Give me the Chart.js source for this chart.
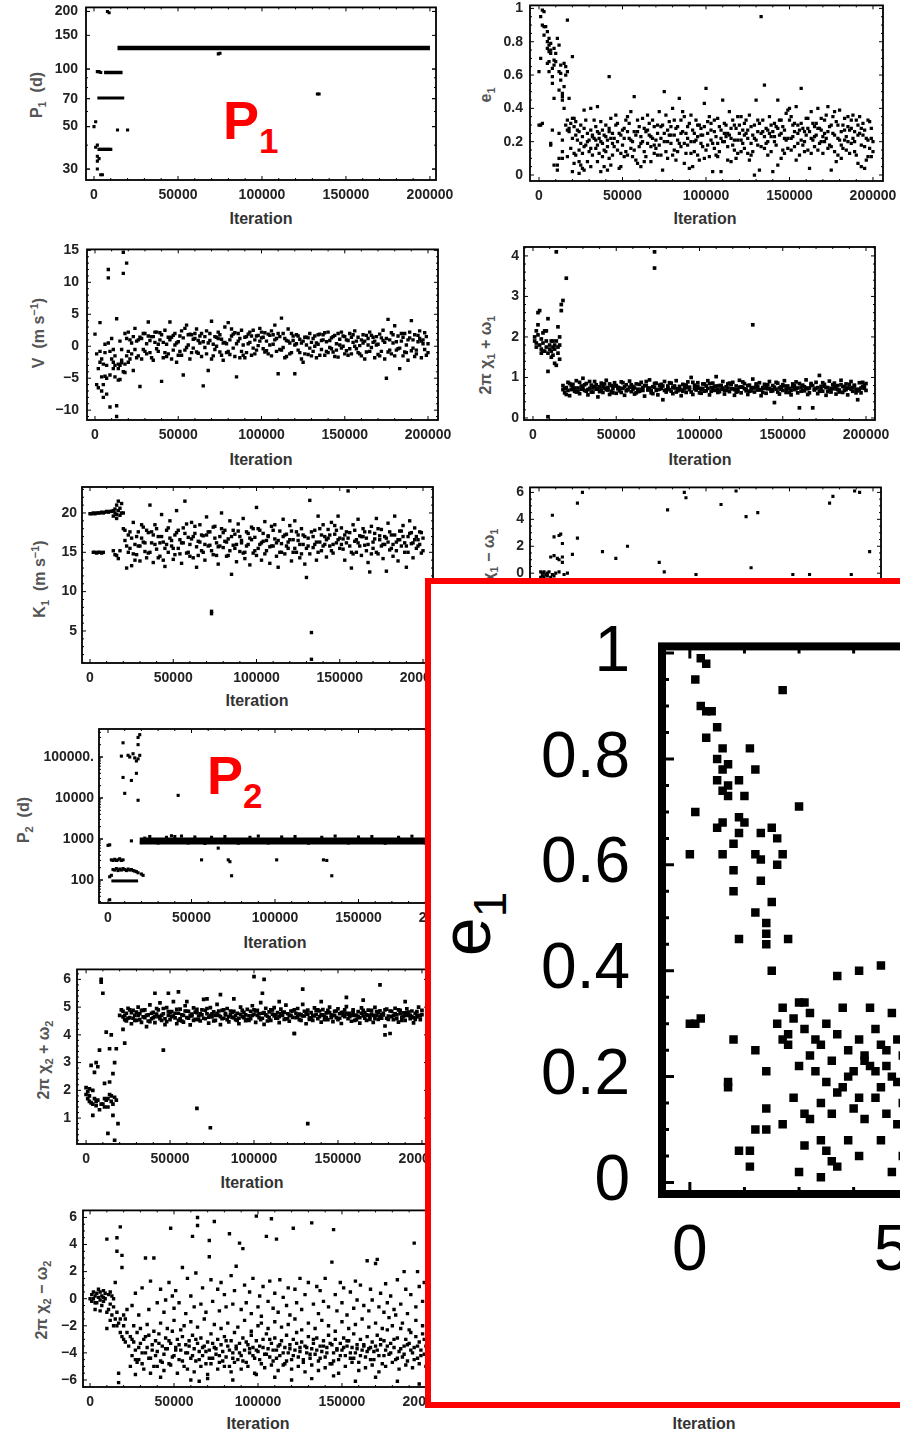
<!DOCTYPE html>
<html lang="en">
<head>
<meta charset="UTF-8">
<title>MCMC chains – orbital parameters vs iteration</title>
<script src="https://cdn.jsdelivr.net/npm/chart.js"></script>
<style>
  html, body { margin: 0; padding: 0; background: #fff; }
  body { width: 900px; height: 1435px; overflow: hidden; position: relative; font-family: 'Liberation Sans', Arial, Helvetica, sans-serif; }
  canvas { position: absolute; }
  .yt { position: absolute; transform: translate(-50%, -50%) rotate(-90deg); white-space: nowrap; font-weight: bold; font-size: 16px; color: #555; }
  .yt sub, .yt sup { font-size: 11px; }
  .xt { position: absolute; transform: translate(-50%, -50%); white-space: nowrap; font-weight: bold; font-size: 16px; color: #333; }
  .red { position: absolute; color: #f00; font-weight: bold; font-size: 54px; line-height: 1; }
  .red span { font-size: 35px; position: relative; top: 14px; }
  #inset { position: absolute; left: 425px; top: 578px; width: 700px; height: 830px; box-sizing: border-box; border: 6px solid #f00; background: #fff; overflow: hidden; z-index: 5; }
  #insetY { position: absolute; left: 35px; top: 340px; transform: translate(-50%, -50%) rotate(-90deg); font-size: 70px; line-height: 1; color: #000; white-space: nowrap; }
  #insetY span { font-size: 46px; position: relative; top: 16px; }
</style>
</head>
<body>

<div class="red" style="left:223px;top:93px">P<span>1</span></div>
<div class="red" style="left:207px;top:748px">P<span>2</span></div>

<div class="yt" style="left:38px;top:95px">P<sub>1</sub>&nbsp;&nbsp;(d)</div>
<div class="yt" style="left:487px;top:95px">e<sub>1</sub></div>
<div class="yt" style="left:38px;top:333px">V&nbsp;&nbsp;(m s<sup>−1</sup>)</div>
<div class="yt" style="left:487px;top:355px">2π χ<sub>1</sub> + ω<sub>1</sub></div>
<div class="yt" style="left:40px;top:579px">K<sub>1</sub>&nbsp;&nbsp;(m s<sup>−1</sup>)</div>
<div class="yt" style="left:490px;top:568px">2π χ<sub>1</sub> − ω<sub>1</sub></div>
<div class="yt" style="left:25px;top:820px">P<sub>2</sub>&nbsp;&nbsp;(d)</div>
<div class="yt" style="left:45px;top:1060px">2π χ<sub>2</sub> + ω<sub>2</sub></div>
<div class="yt" style="left:43px;top:1300px">2π χ<sub>2</sub> − ω<sub>2</sub></div>

<div class="xt" style="left:261px;top:219px">Iteration</div>
<div class="xt" style="left:705px;top:219px">Iteration</div>
<div class="xt" style="left:261px;top:460px">Iteration</div>
<div class="xt" style="left:700px;top:460px">Iteration</div>
<div class="xt" style="left:257px;top:701px">Iteration</div>
<div class="xt" style="left:275px;top:943px">Iteration</div>
<div class="xt" style="left:252px;top:1183px">Iteration</div>
<div class="xt" style="left:258px;top:1424px">Iteration</div>
<div class="xt" style="left:704px;top:1424px">Iteration</div>

<div id="inset"><div id="insetY">e<span>1</span></div></div>

<script>
// x values are in thousands of iterations; y units noted per array
const iterTicks = [0, 50000, 100000, 150000, 200000];
const iterLabels = ['0', '50000', '100000', '150000', '200000'];

// P1 (d)
const p1Ticks = [30, 50, 70, 100, 150, 200];
const p1Labels = ['30', '50', '70', '100', '150', '200'];
const p1Pts = [8,200, 9,197, 2,97, 3,97, 4,96, 14,48, 20,48, 0,50, 1,53, 1,39, 2,40, 2,35, 2,33, 3,34, 2,30, 4,28, 5,28, 3,38, 4,38, 5,38, 6,38, 7,38, 8,38, 9,38, 10,38, 74,120, 75,121, 133,74, 134,74];
const p1Runs = [14,200,129, 2,18,70.5, 6,17,96]; // dense stretches: from, to, value

// e1 (hundredths)
const e1Ticks = [0, 0.2, 0.4, 0.6, 0.8, 1];
const e1Labels = ['0', '0.2', '0.4', '0.6', '0.8', '1'];
const e1Early = [2,99, 3,98, 1,95, 17,93, 2,90, 3,89, 4,89, 5,86, 3,84, 6,82, 11,82, 5,80, 6,78, 7,79, 5,76, 7,75, 6,74, 12,78, 9,76, 7,73, 10,73, 20,71, 1,70, 5,67, 6,68, 9,69, 10,68, 9,66, 8,64, 13,66, 15,67, 16,65, 17,62, 16,60, 12,62, 13,61, 0,62, 6,62, 8,59, 13,57, 8,55, 15,53, 12,51, 14,49, 14,47, 14,45, 18,46, 9,46, 15,40, 0,30, 2,31, 1,30, 8,27, 12,25, 14,21, 7,19, 7,18, 19,16, 14,14, 17,11, 14,10, 12,10, 9,6, 11,6, 11,3, 21,13, 22,12, 20,2, 24,1];
const e1Mid = [16,30, 17,33, 18,28, 19,31, 20,34, 21,29, 22,32, 23,27, 18,26, 21,34, 17,27, 20,22, 22,24, 24,26, 25,30, 26,23, 27,28, 28,33, 29,25, 30,21, 31,27, 33,33, 32,24, 34,29, 35,26, 36,22, 37,32, 38,27, 39,24, 40,30, 41,21, 42,26, 43,34, 44,19, 27,39, 31,40, 35,41, 23,21, 25,19, 27,17, 29,20, 31,16, 33,22, 35,18, 37,20, 39,15, 41,17, 43,22, 24,15, 26,13, 28,18, 30,14, 32,12, 34,16, 36,13, 38,11, 40,14, 42,10, 44,12, 21,7, 24,8, 25,6, 26,4, 27,3, 29,8, 31,5, 35,8, 37,2, 39,5, 41,3, 43,6, 32,23, 34,21, 36,25, 38,19, 40,23, 42,28, 44,25, 42,59];
const e1Late = [45,22, 46,30, 47,15, 48,25, 49,5, 50,18, 51,28, 52,33, 53,12, 54,22, 55,38, 56,20, 57,47, 58,9, 59,26, 60,17, 46,36, 48,4, 50,27, 52,14, 54,31, 56,11, 58,24, 60,29, 47,20, 49,13, 51,22, 53,35, 55,16, 57,26, 59,7,
  61,23, 62,34, 63,14, 64,26, 65,19, 66,31, 67,8, 68,22, 69,29, 70,16, 71,25, 72,38, 73,12, 74,30, 75,50, 62,20, 64,11, 66,24, 68,33, 70,21, 72,18, 74,3, 63,28, 65,36, 67,17, 69,13, 71,30, 73,22, 61,5, 75,25,
  76,14, 77,27, 78,32, 79,19, 80,40, 81,24, 82,9, 83,29, 84,46, 85,17, 86,26, 87,35, 88,13, 89,22, 90,31, 77,20, 79,29, 81,15, 83,21, 85,33, 87,7, 89,18, 78,24, 80,12, 82,28, 84,19, 86,38, 88,25, 90,4, 76,36,
  91,20, 92,27, 93,14, 94,33, 95,23, 96,9, 97,28, 98,17, 99,43, 100,52, 101,25, 102,11, 103,31, 104,19, 105,26, 92,5, 94,21, 96,30, 98,24, 100,15, 102,35, 104,2, 91,36, 93,25, 95,12, 97,19, 99,29, 101,32, 103,21, 105,16,
  106,23, 107,34, 108,14, 109,27, 110,45, 111,20, 112,30, 113,17, 114,24, 115,8, 116,33, 117,21, 118,28, 119,13, 120,25, 107,19, 109,2, 111,31, 113,25, 115,22, 117,15, 119,35, 106,12, 108,29, 110,20, 112,23, 114,38, 116,18, 118,10, 120,30,
  121,21, 122,27, 123,16, 124,33, 125,22, 126,9, 127,29, 128,24, 129,0, 130,45, 131,18, 132,31, 133,95, 134,26, 135,54, 122,19, 124,25, 126,36, 128,14, 130,21, 132,3, 134,33, 121,35, 123,24, 125,13, 127,19, 129,30, 131,26, 133,17, 135,23,
  136,28, 137,20, 138,35, 139,14, 140,26, 141,31, 142,18, 143,45, 144,24, 145,10, 146,29, 147,22, 148,37, 149,16, 150,33, 137,27, 139,30, 141,23, 143,6, 145,25, 147,13, 149,39, 136,19, 138,25, 140,2, 142,29, 144,33, 146,15, 148,21, 150,40,
  151,22, 152,30, 153,17, 154,41, 155,25, 156,12, 157,52, 158,28, 159,20, 160,34, 161,15, 162,26, 163,38, 164,21, 165,29, 152,23, 154,9, 156,27, 158,18, 160,24, 162,4, 164,31, 151,35, 153,26, 155,19, 157,31, 159,14, 161,28, 163,22, 165,17,
  166,24, 167,40, 168,19, 169,27, 170,13, 171,33, 172,22, 173,41, 174,29, 175,17, 176,35, 177,24, 178,8, 179,30, 180,21, 167,15, 169,34, 171,20, 173,26, 175,3, 177,38, 179,12, 166,31, 168,28, 170,23, 172,36, 174,18, 176,25, 178,32, 180,39,
  181,26, 182,16, 183,34, 184,23, 185,35, 186,13, 187,28, 188,36, 189,20, 190,33, 191,7, 192,25, 193,18, 194,31, 195,4, 196,22, 197,33, 198,16, 199,28, 200,20, 182,30, 184,15, 186,27, 188,22, 190,12, 192,35, 194,24, 196,9, 198,32, 200,14, 181,10, 183,21, 185,29, 187,19, 189,26, 191,30, 193,5, 195,27, 197,21, 199,11,
  45,17, 47,31, 49,24, 51,11, 53,26, 55,21, 57,15, 59,33, 61,19, 63,8, 65,27, 67,23, 69,18, 71,12, 73,29, 75,20, 77,10, 79,24, 81,33, 83,14, 85,25, 87,19, 89,29, 91,13, 93,20, 95,30, 97,24, 99,10, 101,18, 103,27, 105,33, 107,11, 109,22, 111,25, 113,9, 115,28, 117,30, 119,21, 121,14, 123,31, 125,27, 127,12, 129,22, 131,33, 133,25, 135,16, 137,12, 139,23, 141,20, 143,28, 145,33, 147,27, 149,22, 151,15, 153,31, 155,30, 157,21, 159,26, 161,34, 163,13, 165,23, 167,28, 169,20, 171,25, 173,16, 175,30, 177,14, 179,22, 181,18, 183,27, 185,20, 187,33, 189,14, 191,24, 193,28, 195,17, 197,11, 199,22];

// V (tenths of m/s)
const vTicks = [-10, -5, 0, 5, 10, 15];
const vLabels = ['\u221210', '\u22125', '0', '5', '10', '15'];
const vEarly = [0,19, 1,-12, 1,-60, 2,-65, 2,-35, 3,37, 3,-25, 4,-20, 4,-48, 5,-80, 5,-28, 6,-47, 6,-10, 7,-50, 7,-30, 8,120, 8,107, 8,5, 9,-95, 9,-45, 10,-20, 10,12, 11,-5, 11,-25, 12,-15, 12,-48, 13,43, 13,-93, 13,-110, 14,-35, 14,-53, 15,-30, 15,8, 16,-5, 16,-26, 17,114, 17,147, 17,-40, 18,20, 18,-41, 19,130, 19,-15, 20,22, 20,-8, 21,10, 21,-20, 22,5, 22,-12, 23,-38, 23,15, 24,28, 24,-5, 6,3, 9,-8, 11,-35, 3,-8, 5,-60, 4,-70, 7,-75, 12,-30, 14,-28, 15,-52, 16,-22, 18,-28, 19,12, 20,-25];
const vLate = [25,8, 26,-15, 27,-63, 28,12, 29,-5, 30,20, 31,4, 32,38, 33,-10, 34,15, 35,-22, 36,6, 37,22, 38,-8, 39,10, 40,-55, 41,-18, 42,25, 43,3, 44,-12, 45,38, 46,14, 47,-6, 48,20, 49,-25, 50,7, 51,16, 52,-14, 53,-45, 54,28, 55,33, 56,2, 57,-20, 58,18, 59,-3, 60,12, 61,27, 62,-11, 63,5, 64,20, 65,-62, 66,-2, 67,24, 68,-38, 69,9, 70,39, 71,-15, 72,15, 73,0, 74,22, 75,-9, 76,11, 77,-22, 78,30, 79,4, 80,37, 81,-13, 82,16, 83,-3, 84,21, 85,-48, 86,8, 87,-18, 88,25, 89,2, 90,14, 91,-10, 92,19, 93,6, 94,-14, 95,25, 96,10, 97,-6, 98,17, 99,28, 100,13, 101,-4, 102,21, 103,8, 104,-12, 105,17, 106,24, 107,3, 108,33, 109,-8, 110,-43, 111,15, 112,44, 113,-2, 114,12, 115,-16, 116,27, 117,5, 118,-10, 119,9, 120,-43, 121,18, 122,-6, 123,11, 124,-20, 125,-25, 126,14, 127,2, 128,-13, 129,20, 130,6, 131,-8, 132,16, 133,-18, 134,3, 135,19, 136,-5, 137,10, 138,-14, 139,7, 140,22, 141,-2, 142,13, 143,-9, 144,17, 145,4, 146,-17, 147,11, 148,22, 149,0, 150,15, 151,-7, 152,9, 153,20, 154,-12, 155,6, 156,24, 157,-4, 158,14, 159,1, 160,-15, 161,18, 162,8, 163,-9, 164,12, 165,22, 166,-2, 167,6, 168,-18, 169,15, 170,3, 171,19, 172,-8, 173,25, 174,-20, 175,-50, 176,42, 177,10, 178,-12, 179,5, 180,32, 181,-6, 182,16, 183,-35, 184,8, 185,-15, 186,20, 187,2, 188,-22, 189,13, 190,40, 191,-3, 192,18, 193,-12, 194,7, 195,24, 196,-18, 197,10, 198,-5, 199,15, 200,4,
  26,10, 28,-20, 30,-8, 32,16, 34,-18, 36,22, 38,3, 40,18, 42,-10, 44,14, 46,-20, 48,2, 50,-14, 52,24, 54,-6, 56,18, 58,-10, 60,20, 62,9, 64,-16, 66,15, 68,5, 70,-20, 72,-5, 74,12, 76,-14, 78,6, 80,-8, 82,27, 84,-16, 86,20, 88,-8, 90,-18, 92,4, 94,16, 96,-12, 98,1, 100,22, 102,-9, 104,19, 106,-15, 108,10, 110,20, 112,-6, 114,-18, 116,8, 118,20, 120,2, 122,16, 124,5, 126,-12, 128,13, 130,-15, 132,0, 134,18, 136,9, 138,21, 140,-10, 142,-4, 144,-16, 146,20, 148,-3, 150,-12, 152,-14, 154,14, 156,0, 158,-10, 160,10, 162,-20, 164,2, 166,17, 168,8, 170,-13, 172,13, 174,6, 176,-9, 178,21, 180,-15, 182,-4, 184,20, 186,-9, 188,10, 190,-7, 192,-16, 194,17, 196,8, 198,21, 200,-10,
  25,-18, 27,14, 29,20, 31,-12, 33,9, 35,15, 37,-4, 39,21, 41,6, 43,-16, 45,10, 47,17, 49,5, 51,-8, 53,13, 55,-2, 57,19, 59,11, 61,-9, 63,16, 65,7, 67,-12, 69,20, 71,3, 73,14, 75,18, 77,5, 79,-10, 81,10, 83,19, 85,4, 87,12, 89,-14, 91,15, 93,22, 95,-3, 97,16, 99,8, 101,14, 103,-7, 105,2, 107,18, 109,12, 111,-5, 113,20, 115,9, 117,-12, 119,16, 121,4, 123,-10, 125,8, 127,14, 129,-3, 131,12, 133,5, 135,-14, 137,18, 139,-8, 141,9, 143,15, 145,-6, 147,2, 149,16, 151,10, 153,-4, 155,18, 157,8, 159,-12, 161,5, 163,17, 165,-8, 167,14, 169,2, 171,-15, 173,9, 175,12, 177,-6, 179,18, 181,7, 183,-3, 185,14, 187,-10, 189,22, 191,10, 193,-6, 195,12, 197,4, 199,-14];

// 2π χ1 + ω1 (hundredths)
const c1pTicks = [0, 1, 2, 3, 4];
const c1pLabels = ['0', '1', '2', '3', '4'];
const c1pEarly = [1,200, 1,190, 2,185, 2,175, 3,230, 3,260, 4,265, 4,180, 5,170, 5,195, 6,210, 6,185, 7,165, 7,215, 8,190, 8,175, 9,245, 9,160, 10,180, 10,170, 11,165, 11,190, 12,155, 12,175, 13,180, 13,135, 14,190, 14,130, 15,225, 15,160, 16,200, 16,145, 17,265, 17,280, 18,290, 20,345, 14,410, 9,115, 9,3, 2,215, 3,205, 5,160, 6,165, 8,215, 11,150, 12,190, 13,170, 16,180, 15,175, 73,410, 73,370, 132,230];
const c1pLate = [18,80, 19,62, 20,75, 21,88, 22,55, 23,70, 24,83, 25,66, 26,92, 27,74, 28,60, 29,79, 30,98, 31,68, 32,85, 33,57, 34,73, 35,81, 36,64, 37,90, 38,71, 39,52, 40,77, 41,86, 42,63, 43,74, 44,93, 45,69, 46,58, 47,80, 48,72, 49,87, 50,61, 51,76, 52,67, 53,89, 54,73, 55,56, 56,82, 57,70, 58,91, 59,65, 60,78, 61,59, 62,84, 63,71, 64,66, 65,88, 66,75, 67,54, 68,80, 69,69, 70,94, 71,62, 72,77, 73,85, 74,68, 75,57, 76,81, 77,73, 78,45, 79,90, 80,64, 81,79, 82,70, 83,86, 84,60, 85,74, 86,92, 87,67, 88,78, 89,55, 90,83, 91,72, 92,63, 93,89, 94,76, 95,100, 96,58, 97,81, 98,69, 99,87, 100,73, 101,61, 102,84, 103,66, 104,79, 105,92, 106,57, 107,75, 108,86, 109,68, 110,102, 111,63, 112,80, 113,71, 114,90, 115,59, 116,77, 117,84, 118,65, 119,73, 120,88, 121,56, 122,79, 123,70, 124,93, 125,62, 126,76, 127,85, 128,67, 129,58, 130,81, 131,74, 132,96, 133,64, 134,78, 135,69, 136,87, 137,55, 138,75, 139,83, 140,61, 141,72, 142,90, 143,66, 144,80, 145,38, 146,71, 147,86, 148,59, 149,77, 150,68, 151,92, 152,63, 153,79, 154,73, 155,57, 156,84, 157,70, 158,89, 159,62, 160,25, 161,76, 162,81, 163,67, 164,94, 165,58, 166,74, 167,85, 168,25, 169,71, 170,88, 171,60, 172,105, 173,78, 174,66, 175,83, 176,56, 177,75, 178,91, 179,64, 180,72, 181,86, 182,59, 183,80, 184,69, 185,93, 186,63, 187,77, 188,84, 189,57, 190,74, 191,90, 192,66, 193,81, 194,71, 195,45, 196,87, 197,62, 198,78, 199,73, 200,85,
  18,70, 20,58, 22,85, 24,72, 26,64, 28,88, 30,76, 32,66, 34,90, 36,74, 38,82, 40,65, 42,78, 44,70, 46,84, 48,62, 50,80, 52,74, 54,87, 56,67, 58,76, 60,70, 62,62, 64,83, 66,68, 68,90, 70,74, 72,60, 74,86, 76,71, 78,79, 80,69, 82,87, 84,76, 86,64, 88,72, 90,66, 92,81, 94,70, 96,88, 98,75, 100,62, 102,73, 104,67, 106,85, 108,74, 110,79, 112,65, 114,74, 116,68, 118,86, 120,72, 122,64, 124,76, 126,89, 128,71, 130,66, 132,75, 134,84, 136,70, 138,63, 140,80, 142,73, 144,67, 146,88, 148,74, 150,82, 152,70, 154,63, 156,77, 158,72, 160,85, 162,68, 164,74, 166,62, 168,80, 170,73, 172,66, 174,87, 176,75, 178,69, 180,82, 182,72, 184,64, 186,78, 188,70, 190,83, 192,75, 194,62, 196,71, 198,88, 200,68,
  19,72, 21,68, 23,80, 25,74, 27,66, 29,71, 31,82, 33,70, 35,64, 37,78, 39,73, 41,69, 43,84, 45,75, 47,66, 49,79, 51,72, 53,63, 55,77, 57,70, 59,82, 61,74, 63,65, 65,71, 67,80, 69,73, 71,67, 73,76, 75,70, 77,83, 79,68, 81,74, 83,66, 85,79, 87,72, 89,69, 91,81, 93,75, 95,64, 97,72, 99,78, 101,70, 103,84, 105,73, 107,66, 109,77, 111,71, 113,80, 115,68, 117,74, 119,83, 121,70, 123,65, 125,77, 127,72, 129,80, 131,67, 133,74, 135,78, 137,69, 139,73, 141,82, 143,70, 145,76, 147,64, 149,71, 151,79, 153,72, 155,68, 157,80, 159,74, 161,66, 163,77, 165,72, 167,81, 169,69, 171,75, 173,70, 175,78, 177,65, 179,73, 181,77, 183,70, 185,82, 187,68, 189,74, 191,71, 193,79, 195,67, 197,74, 199,80];

// K1 (tenths of m/s)
const k1Ticks = [5, 10, 15, 20];
const k1Labels = ['5', '10', '15', '20'];
const k1Early = [0,199, 1,199, 2,200, 3,199, 4,200, 5,200, 6,200, 7,201, 8,200, 9,201, 10,202, 11,201, 12,202, 13,202, 14,203, 15,205, 15,200, 16,210, 16,198, 17,215, 17,203, 18,206, 18,197, 19,212, 19,200, 14,196, 16,193, 2,150, 3,150, 4,149, 5,150, 6,150, 7,149, 8,150, 14,152, 15,147, 16,146, 18,152, 17,142, 73,75, 73,72, 133,48, 133,14];
const k1Late = [20,180, 21,165, 22,130, 23,172, 24,155, 25,133, 26,188, 27,160, 28,147, 29,176, 30,139, 31,168, 32,182, 33,151, 34,143, 35,175, 36,210, 37,162, 38,137, 39,185, 40,154, 41,170, 42,145, 43,198, 44,163, 45,132, 46,178, 47,150, 48,190, 49,158, 50,141, 51,172, 52,203, 53,155, 54,166, 55,136, 56,181, 57,215, 58,149, 59,169, 60,160, 61,188, 62,143, 63,174, 64,131, 65,164, 66,185, 67,152, 68,171, 69,140, 70,195, 71,158, 72,176, 74,147, 75,183, 76,162, 77,135, 78,170, 79,200, 80,156, 81,178, 82,145, 83,167, 84,190, 85,122, 86,159, 87,173, 88,138, 89,186, 90,151, 91,165, 92,193, 93,142, 94,176, 95,160, 96,134, 97,182, 98,149, 99,169, 100,207, 101,155, 102,178, 103,140, 104,164, 105,189, 106,152, 107,171, 108,136, 109,183, 110,158, 111,167, 112,145, 113,131, 114,177, 115,161, 116,192, 117,148, 118,173, 119,155, 120,184, 121,139, 122,166, 123,190, 124,150, 125,172, 126,143, 127,180, 128,160, 129,135, 130,118, 131,168, 132,216, 134,156, 135,178, 136,140, 137,196, 138,163, 139,152, 140,185, 141,170, 142,144, 143,179, 144,158, 145,188, 146,149, 147,173, 148,162, 149,196, 150,155, 151,181, 152,167, 153,140, 154,176, 155,228, 156,158, 157,130, 158,185, 159,164, 160,150, 161,192, 162,171, 163,146, 164,180, 165,159, 166,168, 167,137, 168,125, 169,183, 170,155, 171,174, 172,193, 173,148, 174,166, 175,179, 176,142, 177,160, 178,126, 179,187, 180,153, 181,172, 182,145, 183,196, 184,163, 185,139, 186,177, 187,158, 188,184, 189,150, 190,131, 191,170, 192,190, 193,161, 194,143, 195,181, 196,155, 197,166, 198,176, 199,149, 200,168,
  20,200, 22,158, 24,176, 26,148, 28,170, 30,158, 32,163, 34,178, 36,150, 38,172, 40,180, 42,162, 44,140, 46,160, 48,168, 50,155, 52,175, 54,148, 56,162, 58,186, 60,145, 62,170, 64,157, 66,163, 68,150, 70,172, 72,159, 74,182, 76,146, 78,158, 80,175, 82,163, 84,152, 86,178, 88,160, 90,170, 92,149, 94,158, 96,168, 98,180, 100,146, 102,160, 104,174, 106,165, 108,157, 110,178, 112,162, 114,150, 116,170, 118,158, 120,166, 122,150, 124,176, 126,160, 128,172, 130,155, 132,148, 134,170, 136,163, 138,180, 140,158, 142,166, 144,172, 146,160, 148,178, 150,168, 152,154, 154,162, 156,175, 158,148, 160,166, 162,158, 164,170, 166,152, 168,176, 170,163, 172,150, 174,171, 176,160, 178,168, 180,176, 182,160, 184,152, 186,166, 188,170, 190,158, 192,174, 194,162, 196,170, 198,160, 200,152,
  21,178, 23,150, 25,168, 27,140, 29,158, 31,185, 33,162, 35,149, 37,176, 39,160, 41,143, 43,170, 45,155, 47,181, 49,165, 51,147, 53,178, 55,162, 57,174, 59,150, 61,167, 63,183, 65,146, 67,172, 69,160, 71,176, 73,152, 75,168, 77,157, 79,180, 81,164, 83,146, 85,170, 87,155, 89,177, 91,162, 93,150, 95,174, 97,166, 99,152, 101,180, 103,162, 105,148, 107,170, 109,158, 111,185, 113,165, 115,150, 117,172, 119,163, 121,177, 123,155, 125,165, 127,148, 129,170, 131,158, 133,176, 135,160, 137,150, 139,172, 141,160, 143,168, 145,152, 147,184, 149,166, 151,160, 153,172, 155,168, 157,150, 159,178, 161,162, 163,170, 165,176, 167,160, 169,148, 171,167, 173,180, 175,158, 177,170, 179,163, 181,155, 183,172, 185,166, 187,177, 189,162, 191,150, 193,175, 195,166, 197,158, 199,175];

// 2π χ1 − ω1 (tenths), only the part above the inset is visible
const c1mTicks = [-6, -4, -2, 0, 2, 4, 6];
const c1mLabels = ['\u22126', '\u22124', '\u22122', '0', '2', '4', '6'];
const c1mPts = [8,43, 23,52, 26,60, 9,27, 12,28, 13,29, 14,22, 23,26, 20,14, 7,12, 9,13, 11,11, 12,10, 14,8, 14,12, 1,1, 2,0, 3,1, 4,-1, 5,0, 6,1, 8,-1, 10,0, 12,1, 15,-1, 17,0, 1,-3, 2,-2, 3,-3, 5,-2, 7,-3, 9,-2, 38,16, 46,11, 53,20, 72,8, 75,1, 77,47, 87,60, 88,56, 94,-1, 109,51, 118,61, 124,42, 127,4, 131,45, 152,-1, 162,-1, 174,52, 176,57, 187,-1, 189,61, 192,60, 198,16];

// P2 (d)
const p2Ticks = [100, 1000, 10000, 100000];
const p2Labels = ['100', '1000', '10000', '100000.'];
const p2Pts = [0,700, 1,720, 1,120, 1,33, 2,310, 3,300, 4,320, 5,300, 6,310, 7,330, 8,300, 9,310, 3,180, 4,175, 5,190, 6,170, 7,185, 8,175, 9,190, 10,180, 11,170, 12,185, 13,175, 14,180, 15,170, 16,165, 17,160, 18,150, 20,140, 21,130, 2,130, 9,222000, 8,105000, 12,110000, 13,100000, 15,120000, 16,95000, 17,80000, 18,90000, 19,110000, 18,200000, 18,300000, 19,350000, 9,31700, 14,26800, 17,40000, 10,13000, 18,8800, 14,900, 42,11600, 56,310, 66,600, 72,310, 73,280, 74,127, 101,310, 129,310, 131,300, 134,127,
  20,820, 22,1050, 25,1150, 30,800, 35,1100, 38,1200, 40,1150, 44,1180, 48,800, 52,1120, 58,780, 62,1100, 70,1150, 78,790, 85,1100, 90,1180, 96,800, 104,1120, 112,1150, 120,790, 128,1100, 136,1180, 144,800, 150,1120, 158,1150, 166,790, 174,1100, 182,1170, 190,800, 198,1120];
const p2Runs = [19,200,900, 2,18,95]; // dense stretches: from, to, value

// 2π χ2 + ω2 (hundredths)
const c2pTicks = [1, 2, 3, 4, 5, 6];
const c2pLabels = ['1', '2', '3', '4', '5', '6'];
const c2pEarly = [0,210, 0,185, 1,195, 1,170, 2,160, 2,180, 3,155, 3,290, 4,110, 4,150, 5,170, 5,265, 6,145, 6,300, 7,165, 7,285, 8,130, 8,345, 9,600, 9,590, 10,550, 10,150, 11,225, 11,170, 12,410, 12,165, 13,45, 13,140, 14,350, 14,185, 15,160, 15,400, 16,110, 16,260, 17,20, 17,175, 17,300, 18,350, 18,165, 19,80, 20,470, 21,490, 22,420, 23,370, 24,455, 2,205, 4,200, 6,160, 9,150, 11,140, 13,170, 15,180, 16,150, 14,230,
  46,345, 66,135, 74,65, 132,80, 100,610, 106,600, 105,550, 129,565, 175,580, 155,535, 41,550, 49,550, 55,555, 80,545, 72,530, 124,405, 178,400, 60,520, 88,530, 115,520, 140,520, 165,525, 190,520];
const c2pLate = [22,485, 23,455, 24,478, 25,496, 26,462, 27,440, 28,488, 29,470, 30,452, 31,500, 32,476, 33,445, 34,465, 35,490, 36,430, 37,472, 38,508, 39,458, 40,481, 41,444, 42,495, 43,466, 44,515, 45,452, 46,476, 47,437, 48,498, 49,470, 50,455, 51,484, 52,520, 53,461, 54,440, 55,478, 56,493, 57,450, 58,470, 59,505, 60,462, 61,485, 62,436, 63,475, 64,497, 65,456, 66,480, 67,468, 68,450, 69,490, 70,528, 71,458, 72,476, 73,442, 74,498, 75,465, 76,483, 77,452, 78,510, 79,470, 80,437, 81,488, 82,460, 83,477, 84,495, 85,447, 86,472, 87,463, 88,485, 89,455, 90,478, 91,440, 92,500, 93,466, 94,481, 95,451, 96,492, 97,469, 98,458, 99,505, 100,474, 101,445, 102,488, 103,462, 104,516, 105,478, 106,438, 107,496, 108,467, 109,483, 110,452, 111,475, 112,498, 113,460, 114,480, 115,444, 116,493, 117,470, 118,456, 119,507, 120,476, 121,449, 122,486, 123,463, 124,405, 125,478, 126,495, 127,455, 128,472, 129,510, 130,468, 131,440, 132,489, 133,461, 134,480, 135,452, 136,497, 137,474, 138,458, 139,486, 140,446, 141,491, 142,467, 143,479, 144,455, 145,500, 146,471, 147,448, 148,485, 149,462, 150,494, 151,476, 152,441, 153,481, 154,466, 155,502, 156,458, 157,478, 158,449, 159,490, 160,470, 161,455, 162,484, 163,442, 164,497, 165,468, 166,480, 167,452, 168,489, 169,463, 170,475, 171,445, 172,499, 173,470, 174,456, 175,487, 176,460, 177,478, 178,432, 179,493, 180,468, 181,405, 182,485, 183,455, 184,496, 185,472, 186,446, 187,488, 188,463, 189,479, 190,452, 191,494, 192,470, 193,458, 194,486, 195,443, 196,478, 197,465, 198,500, 199,455, 200,473,
  22,465, 24,450, 26,490, 28,460, 30,482, 32,455, 34,488, 36,470, 38,448, 40,462, 42,475, 44,458, 46,495, 48,448, 50,480, 52,468, 54,492, 56,458, 58,446, 60,485, 62,470, 64,452, 66,492, 68,476, 70,460, 72,495, 74,470, 76,450, 78,478, 80,466, 82,490, 84,455, 86,486, 88,462, 90,452, 92,474, 94,462, 96,455, 98,485, 100,490, 102,470, 104,455, 106,480, 108,450, 110,490, 112,468, 114,460, 116,476, 118,482, 120,458, 122,470, 124,490, 126,465, 128,452, 130,485, 132,475, 134,460, 136,468, 138,490, 140,472, 142,455, 144,488, 146,462, 148,470, 150,455, 152,480, 154,490, 156,474, 158,470, 160,452, 162,466, 164,478, 166,460, 168,470, 170,488, 172,458, 174,480, 176,472, 178,490, 180,456, 182,466, 184,476, 186,490, 188,452, 190,470, 192,482, 194,466, 196,456, 198,470, 200,488,
  23,470, 25,460, 27,480, 29,452, 31,470, 33,488, 35,462, 37,450, 39,478, 41,466, 43,490, 45,470, 47,458, 49,484, 51,466, 53,478, 55,452, 57,472, 59,486, 61,460, 63,468, 65,482, 67,455, 69,472, 71,488, 73,464, 75,476, 77,470, 79,486, 81,458, 83,472, 85,466, 87,482, 89,470, 91,460, 93,488, 95,472, 97,452, 99,470, 101,486, 103,476, 105,460, 107,472, 109,462, 111,490, 113,472, 115,466, 117,480, 119,458, 121,470, 123,486, 125,462, 127,475, 129,468, 131,480, 133,456, 135,470, 137,488, 139,466, 141,472, 143,462, 145,480, 147,470, 149,486, 151,460, 153,470, 155,478, 157,466, 159,482, 161,470, 163,462, 165,488, 167,472, 169,456, 171,470, 173,484, 175,466, 177,472, 179,460, 181,486, 183,470, 185,458, 187,476, 189,466, 191,480, 193,470, 195,462, 197,484, 199,468];

// 2π χ2 − ω2 (tenths)
const c2mTicks = [-6, -4, -2, 0, 2, 4, 6];
const c2mLabels = ['\u22126', '\u22124', '\u22122', '0', '2', '4', '6'];
const c2mEarly = [0,0, 1,3, 1,-2, 2,5, 2,0, 3,2, 3,-8, 4,-3, 4,4, 5,7, 5,1, 6,-1, 6,5, 7,2, 7,-5, 8,6, 8,-2, 9,0, 9,4, 10,44, 10,-22, 11,3, 11,-8, 12,-4, 12,5, 13,2, 13,-12, 14,0, 14,-6, 15,12, 15,-15, 16,35, 16,45, 16,-20, 17,-55, 17,-62, 17,-18, 18,53, 18,-25, 19,23, 19,32, 19,-28, 20,-20, 20,-30, 21,-15, 21,-32, 22,-8, 22,-25, 3,-3, 6,-9, 8,1, 10,-10, 12,-16, 14,-20, 16,-10, 18,-15, 20,-12];
const c2mBand = [23,-35, 24,-28, 25,-42, 26,-32, 27,-38, 28,-25, 29,-45, 30,-33, 31,-48, 32,-30, 33,-40, 34,-36, 35,-27, 36,-44, 37,-34, 38,-50, 39,-31, 40,-39, 41,-26, 42,-46, 43,-35, 44,-41, 45,-29, 46,-37, 47,-48, 48,-33, 49,-24, 50,-42, 51,-36, 52,-30, 53,-45, 54,-38, 55,-28, 56,-50, 57,-34, 58,-40, 59,-31, 60,-44, 61,-27, 62,-37, 63,-46, 64,-33, 65,-39, 66,-29, 67,-42, 68,-35, 69,-48, 70,-32, 71,-38, 72,-26, 73,-44, 74,-36, 75,-41, 76,-30, 77,-47, 78,-34, 79,-39, 80,-28, 81,-43, 82,-35, 83,-50, 84,-31, 85,-40, 86,-25, 87,-37, 88,-45, 89,-33, 90,-42, 91,-29, 92,-38, 93,-47, 94,-34, 95,-40, 96,-27, 97,-36, 98,-44, 99,-31, 100,-39, 101,-35, 102,-48, 103,-30, 104,-41, 105,-26, 106,-37, 107,-43, 108,-33, 109,-46, 110,-29, 111,-38, 112,-35, 113,-42, 114,-31, 115,-49, 116,-36, 117,-27, 118,-40, 119,-34, 120,-45, 121,-30, 122,-38, 123,-25, 124,-43, 125,-36, 126,-32, 127,-47, 128,-35, 129,-40, 130,-28, 131,-44, 132,-37, 133,-33, 134,-41, 135,-29, 136,-46, 137,-35, 138,-39, 139,-31, 140,-43, 141,-36, 142,-27, 143,-48, 144,-34, 145,-40, 146,-30, 147,-37, 148,-45, 149,-33, 150,-38, 151,-29, 152,-42, 153,-35, 154,-31, 155,-44, 156,-36, 157,-26, 158,-40, 159,-34, 160,-47, 161,-30, 162,-38, 163,-35, 164,-43, 165,-28, 166,-37, 167,-45, 168,-32, 169,-39, 170,-35, 171,-27, 172,-42, 173,-34, 174,-48, 175,-31, 176,-38, 177,-23, 178,-41, 179,-33, 180,-20, 181,-36, 182,-45, 183,-29, 184,-39, 185,-22, 186,-43, 187,-35, 188,-30, 189,-46, 190,-33, 191,-25, 192,-40, 193,-36, 194,-28, 195,-44, 196,-32, 197,-38, 198,-26, 199,-41, 200,-35,
  24,-50, 26,-20, 28,-47, 30,-22, 32,-52, 34,-19, 36,-55, 38,-24, 40,-50, 42,-18, 44,-53, 46,-22, 48,-49, 50,-16, 52,-55, 54,-23, 56,-20, 58,-52, 60,-17, 62,-54, 64,-21, 66,-50, 68,-15, 70,-56, 72,-48, 74,-19, 76,-52, 78,-22, 80,-50, 82,-18, 84,-54, 86,-47, 88,-21, 90,-52, 92,-16, 94,-50, 96,-24, 98,-55, 100,-20, 102,-18, 104,-51, 106,-22, 108,-49, 110,-17, 112,-53, 114,-21, 116,-48, 118,-19, 120,-52, 122,-15, 124,-50, 126,-23, 128,-54, 130,-18, 132,-49, 134,-22, 136,-53, 138,-16, 140,-51, 142,-20, 144,-48, 146,-24, 148,-55, 150,-17, 152,-50, 154,-22, 156,-47, 158,-19, 160,-53, 162,-15, 164,-51, 166,-21, 168,-49, 170,-18, 172,-54, 174,-22, 176,-50, 178,-14, 180,-47, 182,-12, 184,-52, 186,-18, 188,-49, 190,-23, 192,-51, 194,-16, 196,-48, 198,-20, 200,-50,
  25,-30, 27,-45, 29,-36, 31,-40, 33,-28, 35,-44, 37,-38, 39,-42, 41,-33, 43,-47, 45,-37, 47,-31, 49,-43, 51,-38, 53,-34, 55,-46, 57,-40, 59,-35, 61,-42, 63,-30, 65,-45, 67,-36, 69,-39, 71,-44, 73,-33, 75,-37, 77,-42, 79,-46, 81,-31, 83,-38, 85,-44, 87,-35, 89,-40, 91,-46, 93,-32, 95,-37, 97,-42, 99,-38, 101,-45, 103,-36, 105,-41, 107,-30, 109,-38, 111,-44, 113,-34, 115,-40, 117,-46, 119,-37, 121,-42, 123,-33, 125,-39, 127,-45, 129,-36, 131,-41, 133,-30, 135,-38, 137,-44, 139,-35, 141,-40, 143,-33, 145,-46, 147,-38, 149,-42, 151,-36, 153,-31, 155,-40, 157,-44, 159,-37, 161,-42, 163,-34, 165,-39, 167,-36, 169,-45, 171,-38, 173,-30, 175,-42, 177,-35, 179,-40, 181,-30, 183,-44, 185,-37, 187,-41, 189,-34, 191,-38, 193,-45, 195,-35, 197,-42, 199,-30];
const c2mSparse = [25,-5, 27,4, 29,-12, 31,8, 33,30, 35,-8, 36,13, 38,30, 40,-3, 42,7, 44,-10, 45,-1, 47,12, 48,52, 49,2, 50,-7, 51,6, 53,-3, 55,23, 57,-11, 58,15, 60,2, 61,46, 62,-6, 63,19, 64,60, 64,54, 66,-4, 67,8, 69,-10, 71,43, 71,31, 72,14, 73,-2, 74,57, 76,7, 77,-9, 78,12, 80,3, 81,-6, 83,48, 84,17, 85,-4, 86,6, 87,24, 89,41, 90,-8, 91,37, 92,10, 93,-3, 95,5, 96,-11, 97,15, 99,61, 100,-6, 101,2, 102,-13, 103,9, 105,46, 106,-2, 107,13, 108,59, 109,-7, 110,4, 111,44, 112,-10, 113,14, 115,1, 117,-5, 118,8, 119,-12, 121,52, 122,7, 123,-3, 125,15, 126,-8, 128,3, 130,12, 132,56, 133,-4, 135,9, 136,-11, 137,6, 139,-2, 140,15, 142,-6, 144,27, 145,51, 146,3, 147,-9, 149,12, 150,-3, 151,8, 153,-12, 155,5, 157,-7, 158,13, 159,-1, 161,10, 163,-5, 165,28, 166,-9, 167,7, 168,-1, 170,26, 171,29, 172,-6, 173,4, 175,-10, 176,11, 177,-3, 179,2, 181,-8, 183,14, 185,-4, 187,20, 188,7, 189,-11, 191,3, 193,41, 194,-6, 195,20, 196,9, 198,-2, 199,12,
  27,-56, 65,-61, 99,-56, 132,-59, 158,-61, 183,-61, 196,-63, 60,-60, 70,-59, 110,-58, 120,-60, 145,-57, 170,-58, 42,-58, 85,-60];

const FONT = "'Liberation Sans', Arial, Helvetica, sans-serif";

function pairs(a, sy) {
  const out = [];
  for (let i = 0; i < a.length; i += 2) out.push({ x: a[i] * 1000, y: a[i + 1] * sy });
  return out;
}

function runs(a) {
  const out = [];
  for (let i = 0; i < a.length; i += 3) out.push([{ x: a[i] * 1000, y: a[i + 2] }, { x: a[i + 1] * 1000, y: a[i + 2] }]);
  return out;
}

function logSteps(min, max) {
  const out = [];
  for (let d = Math.pow(10, Math.floor(Math.log10(min))); d <= max; d *= 10)
    for (let k = 1; k < 10; k++) if (k * d >= min && k * d <= max) out.push(k * d);
  return out;
}

// Mathematica style frame: border plus inward ticks on all four sides
const frameTicks = {
  id: 'frameTicks',
  afterDatasetsDraw(chart, args, o) {
    const { ctx, chartArea: a, scales: { x, y } } = chart;
    const near = (s, v) => s.ticks.some(t => Math.abs(t.value - v) <= 1e-6 * Math.max(1, Math.abs(v)));
    const steps = (s, st) => {
      const r = [];
      for (let n = Math.ceil(s.min / st - 1e-9); n * st <= s.max + 1e-9; n++) r.push(+(n * st).toPrecision(10));
      return r;
    };
    ctx.save();
    ctx.strokeStyle = '#000';
    ctx.lineWidth = o.tw;
    ctx.beginPath();
    steps(x, o.xStep).forEach(v => {
      const p = x.getPixelForValue(v), l = near(x, v) ? o.major : o.minor;
      ctx.moveTo(p, a.bottom); ctx.lineTo(p, a.bottom - l);
      ctx.moveTo(p, a.top); ctx.lineTo(p, a.top + l);
    });
    const yv = o.log ? logSteps(y.min, y.max).concat(y.ticks.map(t => t.value)) : steps(y, o.yStep);
    yv.forEach(v => {
      const p = y.getPixelForValue(v), l = near(y, v) ? o.major : o.minor;
      ctx.moveTo(a.left, p); ctx.lineTo(a.left + l, p);
      ctx.moveTo(a.right, p); ctx.lineTo(a.right - l, p);
    });
    ctx.stroke();
    ctx.lineWidth = o.fw;
    ctx.strokeRect(a.left, a.top, a.right - a.left, a.bottom - a.top);
    ctx.restore();
  }
};

function makePanel(p) {
  const [L, T, R, B] = p.frame;
  const pl = p.padL || 70, pt = p.padT || 14, pr = p.padR || 40, pb = p.padB || 34;
  const cv = document.createElement('canvas');
  cv.width = R - L + pl + pr;
  cv.height = B - T + pt + pb;
  cv.style.left = (L - pl - (p.ox || 0)) + 'px';
  cv.style.top = (T - pt - (p.oy || 0)) + 'px';
  (p.host || document.body).appendChild(cv);

  const font = p.font || { family: FONT, size: 14, weight: 'bold' };
  const color = p.color || '#222';
  const datasets = [];
  (p.runs || []).forEach((d, i) => datasets.push({
    data: d, showLine: true, pointRadius: 0, borderColor: '#000', borderWidth: p.runW[i]
  }));
  datasets.push({
    data: p.points, showLine: false, pointStyle: 'rect', pointRadius: p.r || 2.2,
    backgroundColor: '#000', borderWidth: 0
  });

  new Chart(cv, {
    type: 'scatter',
    data: { datasets },
    options: {
      responsive: false,
      animation: false,
      events: [],
      layout: { padding: { left: 0, top: pt, right: pr, bottom: 0 } },
      plugins: {
        legend: { display: false },
        tooltip: { enabled: false },
        frameTicks: Object.assign({ tw: 1, fw: 1.8, major: 4, minor: 2, xStep: 10000, log: !!p.log }, p.ft)
      },
      scales: {
        x: {
          type: 'linear', bounds: 'data', min: p.x[0], max: p.x[1],
          grid: { display: false, drawTicks: false }, border: { display: false },
          afterBuildTicks: s => { s.ticks = iterTicks.map(v => ({ value: v })); },
          afterFit: s => { s.height = pb; },
          ticks: { autoSkip: false, maxRotation: 0, padding: p.xPad || 7, font, color, callback: (v, i) => iterLabels[i] }
        },
        y: {
          type: p.log ? 'logarithmic' : 'linear', bounds: 'data', min: p.y[0], max: p.y[1],
          grid: { display: false, drawTicks: false }, border: { display: false },
          afterBuildTicks: s => { s.ticks = p.yTicks.map(v => ({ value: v })); },
          afterFit: s => { s.width = pl; },
          ticks: { autoSkip: false, padding: p.yPad || 6, font, color, callback: (v, i) => p.yLabels[i] }
        }
      }
    },
    plugins: [frameTicks]
  });
}

const e1All = pairs(e1Early.concat(e1Mid, e1Late), 0.01);

makePanel({ frame: [86, 5, 436, 180], x: [-4760, 203600], y: [26.3, 210], log: true,
  yTicks: p1Ticks, yLabels: p1Labels, points: pairs(p1Pts, 1), runs: runs(p1Runs), runW: [4.5, 3, 3.5], yPad: 8 });
makePanel({ frame: [530, 4, 883, 181], x: [-5400, 206000], y: [-0.036, 1.018],
  yTicks: e1Ticks, yLabels: e1Labels, points: e1All, r: 2.3, ft: { yStep: 0.05 }, yPad: 7 });
makePanel({ frame: [87, 247, 438, 420], x: [-4800, 206000], y: [-11.54, 15.15],
  yTicks: vTicks, yLabels: vLabels, points: pairs(vEarly.concat(vLate), 0.1), r: 2.4, ft: { yStep: 1 }, yPad: 8 });
makePanel({ frame: [524, 247, 875, 420], x: [-5400, 205400], y: [-0.05, 4.22],
  yTicks: c1pTicks, yLabels: c1pLabels, points: pairs(c1pEarly.concat(c1pLate), 0.01), r: 2.6, ft: { yStep: 0.2 }, yPad: 5 });
makePanel({ frame: [82, 487, 433, 663], x: [-4800, 206000], y: [0.93, 23.3],
  yTicks: k1Ticks, yLabels: k1Labels, points: pairs(k1Early.concat(k1Late), 0.1), r: 2.4, ft: { yStep: 1 }, yPad: 5 });
makePanel({ frame: [530, 487, 881, 663], x: [-5400, 204800], y: [-6.67, 6.37],
  yTicks: c1mTicks, yLabels: c1mLabels, points: pairs(c1mPts, 0.1), ft: { yStep: 0.5 }, yPad: 6 });
makePanel({ frame: [99, 729, 450, 903], x: [-5400, 204800], y: [27.5, 482000], log: true,
  yTicks: p2Ticks, yLabels: p2Labels, points: pairs(p2Pts, 1), runs: runs(p2Runs), runW: [7, 3], yPad: 5 });
makePanel({ frame: [77, 969, 428, 1144], x: [-5400, 203600], y: [0.065, 6.36],
  yTicks: c2pTicks, yLabels: c2pLabels, points: pairs(c2pEarly.concat(c2pLate), 0.01), r: 2.6, ft: { yStep: 0.2 }, yPad: 6 });
makePanel({ frame: [83, 1210, 434, 1387], x: [-4200, 204800], y: [-6.52, 6.52],
  yTicks: c2mTicks, yLabels: c2mLabels, points: pairs(c2mEarly.concat(c2mBand, c2mSparse), 0.1), r: 2.4, ft: { yStep: 0.5 }, yPad: 6 });

// magnified e1 panel inside the red box
makePanel({ host: document.getElementById('inset'), ox: 431, oy: 584,
  frame: [662, 621, 1808, 1194], x: [-5100, 204800], y: [-0.0217, 1.0126],
  yTicks: e1Ticks, yLabels: e1Labels, points: e1All, r: 6,
  padL: 200, padT: 45, padR: 140, padB: 110, yPad: 32, xPad: 20,
  font: { family: FONT, size: 64, weight: 'normal' }, color: '#000',
  ft: { yStep: 0.05, major: 12, minor: 7, tw: 3, fw: 8 } });
</script>
</body>
</html>
